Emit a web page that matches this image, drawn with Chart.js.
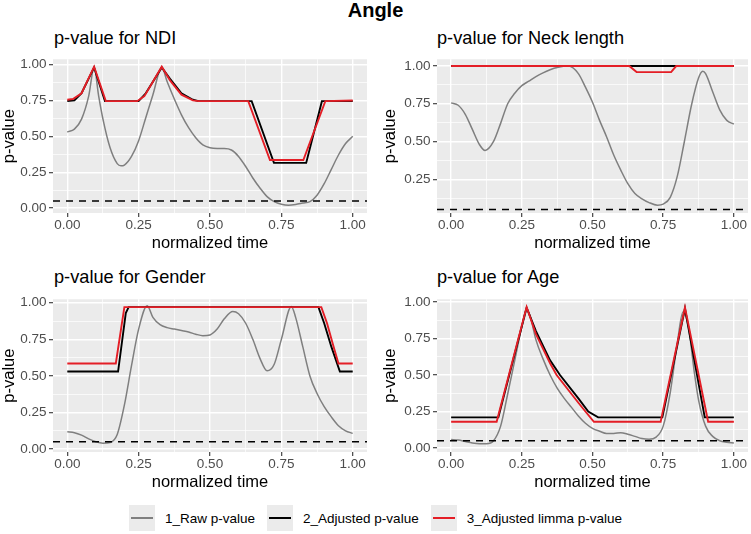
<!DOCTYPE html>
<html>
<head>
<meta charset="utf-8">
<script src="https://cdn.jsdelivr.net/npm/chart.js@4.4.1/dist/chart.umd.min.js"></script>
<style>
  body { margin: 0; background: #fff; width: 751px; height: 534px; position: relative; overflow: hidden;
         font-family: "Liberation Sans", Arial, sans-serif; }
  canvas { position: absolute; }
  .main-title { position: absolute; left: 0; top: 0; width: 751px; text-align: center;
                font-size: 20px; line-height: 20px; font-weight: bold; color: #000; }
  .panel-title { position: absolute; font-size: 18.2px; line-height: 19px; color: #000; white-space: nowrap; }
  .legend { position: absolute; left: 0; top: 505px; width: 751px; height: 26px;
            display: flex; justify-content: center; align-items: center; font-size: 13.5px; color: #000; }
  .item { display: flex; align-items: center; margin: 0 6px; }
  .key { width: 26px; height: 26px; background: #ebebeb; position: relative; }
  .key span { position: absolute; left: 2px; right: 2px; top: 12px; height: 2px; }
  .item label { margin-left: 10px; }
</style>
</head>
<body>
<div class="main-title">Angle</div>
<div class="panel-title" style="left:54px;top:29px">p-value for NDI</div>
<div class="panel-title" style="left:437px;top:29px">p-value for Neck length</div>
<div class="panel-title" style="left:54px;top:268px">p-value for Gender</div>
<div class="panel-title" style="left:437px;top:268px">p-value for Age</div>

<canvas id="ndi-chart" width="375" height="205" style="left:0;top:50px"></canvas>
<canvas id="neck-chart" width="376" height="205" style="left:375px;top:50px"></canvas>
<canvas id="gender-chart" width="375" height="204" style="left:0;top:290px"></canvas>
<canvas id="age-chart" width="376" height="204" style="left:375px;top:290px"></canvas>

<div class="legend" id="legend"></div>

<script>
// grid positions (majors get labels) and the significance line
const gridSteps = [0, 0.125, 0.25, 0.375, 0.5, 0.625, 0.75, 0.875, 1];
const cutoffX = [-0.05, 1.05];
const cutoffY = [0.05, 0.05];

const seriesNames = ["1_Raw p-value", "2_Adjusted p-value", "3_Adjusted limma p-value"];
const seriesColors = ["#7f7f7f", "#000000", "#e41e26"];

// NDI
const ndiRawX = [0, 0.025, 0.05, 0.075, 0.094, 0.11, 0.125, 0.15, 0.175, 0.188, 0.2, 0.225, 0.25, 0.275, 0.3, 0.331,
                 0.35, 0.375, 0.4, 0.425, 0.45, 0.475, 0.5, 0.525, 0.55, 0.575, 0.6, 0.625, 0.65, 0.675, 0.7, 0.725,
                 0.75, 0.775, 0.8, 0.825, 0.85, 0.875, 0.9, 0.925, 0.95, 0.975, 1];
const ndiRawY = [0.53, 0.55, 0.62, 0.78, 0.98, 0.78, 0.62, 0.42, 0.31, 0.295, 0.3, 0.36, 0.47, 0.63, 0.79, 0.98,
                 0.88, 0.76, 0.65, 0.56, 0.49, 0.44, 0.42, 0.415, 0.415, 0.405, 0.36, 0.29, 0.21, 0.14, 0.08, 0.045,
                 0.027, 0.02, 0.025, 0.035, 0.045, 0.09, 0.17, 0.27, 0.37, 0.45, 0.5];
const ndiAdjX = [0, 0.025, 0.05, 0.094, 0.132, 0.25, 0.275, 0.3, 0.331, 0.36, 0.4, 0.44, 0.46, 0.646, 0.724, 0.837, 0.892, 1];
const ndiAdjY = [0.745, 0.75, 0.8, 0.98, 0.745, 0.745, 0.8, 0.88, 0.98, 0.9, 0.8, 0.755, 0.745, 0.745, 0.315, 0.315, 0.745, 0.745];
const ndiLimX = [0, 0.02, 0.05, 0.094, 0.135, 0.245, 0.27, 0.3, 0.331, 0.36, 0.4, 0.44, 0.46, 0.634, 0.71, 0.827, 0.904, 1];
const ndiLimY = [0.755, 0.76, 0.8, 0.985, 0.745, 0.745, 0.78, 0.88, 0.985, 0.89, 0.79, 0.75, 0.745, 0.745, 0.335, 0.335, 0.745, 0.75];

// Neck length
const neckRawX = [0, 0.025, 0.05, 0.075, 0.1, 0.12, 0.15, 0.175, 0.2, 0.225, 0.25, 0.275, 0.3, 0.325, 0.35, 0.375, 0.415,
                  0.45, 0.475, 0.5, 0.525, 0.55, 0.575, 0.6, 0.625, 0.65, 0.675, 0.7, 0.73, 0.75, 0.775, 0.8, 0.825,
                  0.85, 0.875, 0.89, 0.9, 0.925, 0.95, 0.975, 1];
const neckRawY = [0.756, 0.74, 0.68, 0.58, 0.48, 0.44, 0.5, 0.62, 0.75, 0.82, 0.87, 0.9, 0.93, 0.955, 0.975, 0.99, 1.0,
                  0.95, 0.86, 0.76, 0.64, 0.53, 0.41, 0.31, 0.22, 0.155, 0.12, 0.095, 0.078, 0.085, 0.13, 0.27, 0.5,
                  0.74, 0.92, 0.965, 0.95, 0.83, 0.71, 0.64, 0.615];
const neckAdjX = [0, 1];
const neckAdjY = [1, 1];
const neckLimX = [0, 0.63, 0.656, 0.778, 0.796, 1];
const neckLimY = [1, 1, 0.96, 0.96, 1, 1];

// Gender
const genderRawX = [0, 0.025, 0.05, 0.075, 0.1, 0.125, 0.15, 0.175, 0.2, 0.225, 0.25, 0.28, 0.3, 0.325, 0.35, 0.375, 0.4,
                    0.425, 0.45, 0.475, 0.5, 0.525, 0.55, 0.58, 0.6, 0.625, 0.65, 0.675, 0.7, 0.725, 0.75, 0.785, 0.8,
                    0.825, 0.85, 0.875, 0.9, 0.925, 0.95, 0.975, 1];
const genderRawY = [0.118, 0.112, 0.095, 0.07, 0.05, 0.04, 0.045, 0.1, 0.3, 0.57, 0.82, 0.98, 0.9, 0.85, 0.83, 0.82, 0.81,
                    0.8, 0.785, 0.775, 0.78, 0.82, 0.89, 0.94, 0.925, 0.86, 0.75, 0.62, 0.535, 0.58, 0.75, 0.975, 0.9,
                    0.7, 0.5, 0.38, 0.29, 0.22, 0.16, 0.125, 0.107];
const genderAdjX = [0, 0.178, 0.205, 0.215, 0.88, 0.9, 0.925, 0.955, 1];
const genderAdjY = [0.53, 0.53, 0.93, 0.97, 0.97, 0.86, 0.7, 0.53, 0.53];
const genderLimX = [0, 0.17, 0.2, 0.89, 0.91, 0.93, 0.95, 1];
const genderLimY = [0.585, 0.585, 0.97, 0.97, 0.86, 0.72, 0.585, 0.585];

// Age
const ageRawX = [0, 0.025, 0.05, 0.075, 0.1, 0.125, 0.15, 0.175, 0.2, 0.225, 0.25, 0.267, 0.28, 0.3, 0.325, 0.35, 0.375,
                 0.4, 0.425, 0.45, 0.475, 0.5, 0.525, 0.55, 0.575, 0.6, 0.625, 0.65, 0.675, 0.7, 0.725, 0.75, 0.775,
                 0.8, 0.82, 0.84, 0.86, 0.875, 0.9, 0.925, 0.95, 0.975, 1];
const ageRawY = [0.058, 0.055, 0.045, 0.035, 0.03, 0.03, 0.05, 0.15, 0.37, 0.6, 0.83, 0.95, 0.9, 0.74, 0.61, 0.5, 0.41,
                 0.34, 0.28, 0.22, 0.17, 0.135, 0.115, 0.1, 0.1, 0.105, 0.095, 0.08, 0.065, 0.06, 0.075, 0.15, 0.38,
                 0.72, 0.93, 0.82, 0.52, 0.33, 0.15, 0.08, 0.05, 0.04, 0.035];
const ageAdjX = [0, 0.167, 0.267, 0.3, 0.35, 0.385, 0.45, 0.485, 0.52, 0.747, 0.827, 0.897, 1];
const ageAdjY = [0.21, 0.21, 0.96, 0.8, 0.6, 0.5, 0.34, 0.25, 0.21, 0.21, 0.955, 0.21, 0.21];
const ageLimX = [0, 0.161, 0.267, 0.3, 0.35, 0.373, 0.45, 0.475, 0.505, 0.741, 0.827, 0.909, 1];
const ageLimY = [0.18, 0.18, 0.965, 0.78, 0.58, 0.5, 0.31, 0.25, 0.18, 0.18, 0.962, 0.18, 0.18];

Chart.defaults.font.family = '"Liberation Sans", Arial, sans-serif';

function toPoints(xs, ys) {
    return xs.map((x, i) => ({ x: x, y: ys[i] }));
}

function isMajor(v) {
    return Math.round(v * 8) % 2 === 0;
}

const panelBackground = {
    id: "panelBackground",
    beforeDraw(chart) {
        const a = chart.chartArea;
        chart.ctx.save();
        chart.ctx.fillStyle = "#ebebeb";
        chart.ctx.fillRect(a.left, a.top, a.right - a.left, a.bottom - a.top);
        chart.ctx.restore();
    },
};

function axisOptions(min, max, titleText, isY, fixedSize) {
    return {
        type: "linear",
        min: min,
        max: max,
        border: { display: false },
        afterBuildTicks(scale) {
            scale.ticks = gridSteps
                .filter((v) => v >= scale.min - 1e-9 && v <= scale.max + 1e-9)
                .map((v) => ({ value: v }));
        },
        afterFit(scale) {
            if (isY) scale.width = fixedSize;
            else scale.height = fixedSize;
        },
        grid: {
            color: "#ffffff",
            lineWidth: (ctx) => (ctx.tick && isMajor(ctx.tick.value) ? 1.4 : 0.7),
            drawTicks: true,
            tickLength: 4,
            tickWidth: 1.1,
            tickColor: (ctx) => (ctx.tick && isMajor(ctx.tick.value) ? "#333333" : "rgba(0,0,0,0)"),
        },
        ticks: {
            autoSkip: false,
            maxRotation: 0,
            minRotation: 0,
            padding: isY ? 2.5 : 2,
            color: "#4d4d4d",
            font: { size: 13.5, lineHeight: 1 },
            callback: (v) => (isMajor(v) ? Number(v).toFixed(2) : ""),
        },
        title: {
            display: true,
            text: titleText,
            color: "#000000",
            font: { size: 16.5, lineHeight: 1.2 },
            padding: { top: 0, bottom: 0 },
        },
    };
}

function makePanel(canvasId, raw, adj, lim, yMin, yMax, padding, yWidth) {
    const datasets = [
        {
            label: "cutoff",
            data: toPoints(cutoffX, cutoffY),
            borderColor: "#000000",
            borderWidth: 1.5,
            borderDash: [7, 6],
            pointRadius: 0,
            clip: 0,
            order: 0,
        },
        {
            label: seriesNames[2],
            data: lim,
            borderColor: seriesColors[2],
            borderWidth: 1.9,
            pointRadius: 0,
            tension: 0,
            order: 1,
        },
        {
            label: seriesNames[1],
            data: adj,
            borderColor: seriesColors[1],
            borderWidth: 1.9,
            pointRadius: 0,
            tension: 0,
            order: 2,
        },
        {
            label: seriesNames[0],
            data: raw,
            borderColor: seriesColors[0],
            borderWidth: 1.5,
            pointRadius: 0,
            cubicInterpolationMode: "monotone",
            order: 3,
        },
    ];

    return new Chart(document.getElementById(canvasId), {
        type: "line",
        data: { datasets: datasets },
        options: {
            responsive: false,
            animation: false,
            events: [],
            layout: { padding: padding },
            plugins: { legend: { display: false }, tooltip: { enabled: false } },
            scales: {
                x: axisOptions(-0.05, 1.05, "normalized time", false, 40),
                y: axisOptions(yMin, yMax, "p-value", true, yWidth),
            },
        },
        plugins: [panelBackground],
    });
}

makePanel("ndi-chart",
    toPoints(ndiRawX, ndiRawY), toPoints(ndiAdjX, ndiAdjY), toPoints(ndiLimX, ndiLimY),
    -0.034, 1.037, { left: 0, right: 8, top: 7, bottom: 2 }, 53);
makePanel("neck-chart",
    toPoints(neckRawX, neckRawY), toPoints(neckAdjX, neckAdjY), toPoints(neckLimX, neckLimY),
    0.026, 1.045, { left: 6, right: 3, top: 7, bottom: 2 }, 56);
makePanel("gender-chart",
    toPoints(genderRawX, genderRawY), toPoints(genderAdjX, genderAdjY), toPoints(genderLimX, genderLimY),
    -0.02, 1.024, { left: 0, right: 8, top: 6, bottom: 2 }, 53);
makePanel("age-chart",
    toPoints(ageRawX, ageRawY), toPoints(ageAdjX, ageAdjY), toPoints(ageLimX, ageLimY),
    -0.027, 1.018, { left: 6, right: 3, top: 6, bottom: 2 }, 56);

// legend
const legendBox = document.getElementById("legend");
seriesNames.forEach((name, i) => {
    const item = document.createElement("div");
    item.className = "item";
    item.innerHTML = '<div class="key"><span style="background:' + seriesColors[i] + '"></span></div><label>' + name + "</label>";
    legendBox.appendChild(item);
});
</script>
</body>
</html>
